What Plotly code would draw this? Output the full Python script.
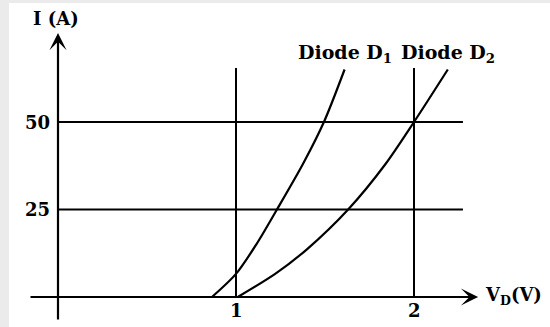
import plotly.graph_objects as go

# ---- data ----
d1_v = [0.865, 1.0, 1.12, 1.23, 1.376, 1.494, 1.61]
d1_i = [0.0, 6.6, 15.5, 25.0, 38.0, 50.0, 65.0]
d2_v = [1.01, 1.22, 1.40, 1.63, 1.84, 2.0, 2.19]
d2_i = [0.0, 6.6, 13.7, 25.0, 38.0, 50.0, 65.0]
x_ticks = [1, 2]
x_tick_labels = ["1", "2"]
y_ticks = [25, 50]
y_tick_labels = ["25", "50"]
series_labels = ["Diode D<sub>1</sub>", "Diode D<sub>2</sub>"]
x_title = "V<sub>D</sub>(V)"
y_title = "I (A)"

# ---- layout constants ----
X_RANGE = [-58 / 178, (550 - 58) / 178]
Y_RANGE = [-30 / 3.5, 297 / 3.5]
GRID_TOP = 65.4
GRID_RIGHT = 2.275
FONT = "DejaVu Serif"

fig = go.Figure()

for vs, cs in [(d1_v, d1_i), (d2_v, d2_i)]:
    fig.add_trace(go.Scatter(x=vs, y=cs, mode="lines",
                             line=dict(color="black", width=2.2, shape="spline", smoothing=0.8),
                             hoverinfo="skip", showlegend=False))

shapes = []
# white panel on grey frame
shapes.append(dict(type="rect", xref="paper", yref="paper", x0=9 / 550, x1=1, y0=0, y1=(327 - 3) / 327,
                   fillcolor="white", line=dict(width=0), layer="below"))
for xv in x_ticks:
    shapes.append(dict(type="line", xref="x", yref="y", x0=xv, x1=xv, y0=0, y1=GRID_TOP,
                       line=dict(color="black", width=2)))
for yv in y_ticks:
    shapes.append(dict(type="line", xref="x", yref="y", x0=0, x1=GRID_RIGHT, y0=yv, y1=yv,
                       line=dict(color="black", width=2)))

annotations = []
# axes with arrows
annotations.append(dict(x=2.36, y=0, ax=-0.163, ay=0, xref="x", yref="y", axref="x", ayref="y",
                        text="", showarrow=True, arrowhead=3, arrowsize=1.3, arrowwidth=2.2,
                        arrowcolor="black"))
annotations.append(dict(x=0, y=75.4, ax=0, ay=-6.86, xref="x", yref="y", axref="x", ayref="y",
                        text="", showarrow=True, arrowhead=3, arrowsize=1.3, arrowwidth=2.2,
                        arrowcolor="black"))
tfont = dict(family=FONT, size=18, color="black")
for xv, lab in zip(x_ticks, x_tick_labels):
    annotations.append(dict(x=xv, y=-3.9, xref="x", yref="y", text="<b>%s</b>" % lab,
                            showarrow=False, font=tfont, xanchor="center", yanchor="middle"))
for yv, lab in zip(y_ticks, y_tick_labels):
    annotations.append(dict(x=-0.034, y=yv, xref="x", yref="y", text="<b>%s</b>" % lab,
                            showarrow=False, font=tfont, xanchor="right", yanchor="middle"))
annotations.append(dict(x=-0.011, y=79.7, xref="x", yref="y", text="<b>%s</b>" % y_title,
                        showarrow=False, font=dict(family=FONT, size=18, color="black"),
                        xanchor="center", yanchor="middle"))
annotations.append(dict(x=2.388, y=0.3, xref="x", yref="y", text="<b>%s</b>" % x_title,
                        showarrow=False, font=dict(family=FONT, size=18, color="black"),
                        xanchor="left", yanchor="middle"))
for vs, cs, lab in [(d1_v, d1_i, series_labels[0]), (d2_v, d2_i, series_labels[1])]:
    annotations.append(dict(x=vs[-1], y=69.6, xref="x", yref="y", text="<b>%s</b>" % lab,
                            showarrow=False, font=dict(family=FONT, size=19, color="black"),
                            xanchor="center", yanchor="middle"))

fig.update_layout(
    width=550, height=327,
    margin=dict(l=0, r=0, t=0, b=0),
    paper_bgcolor="#ebebeb", plot_bgcolor="rgba(0,0,0,0)",
    xaxis=dict(range=X_RANGE, visible=False, fixedrange=True),
    yaxis=dict(range=Y_RANGE, visible=False, fixedrange=True),
    shapes=shapes, annotations=annotations,
    showlegend=False,
)

fig.write_html("out.html", config={"displayModeBar": False},
               post_script="document.body.style.margin='0';document.body.style.background='#ebebeb';")
